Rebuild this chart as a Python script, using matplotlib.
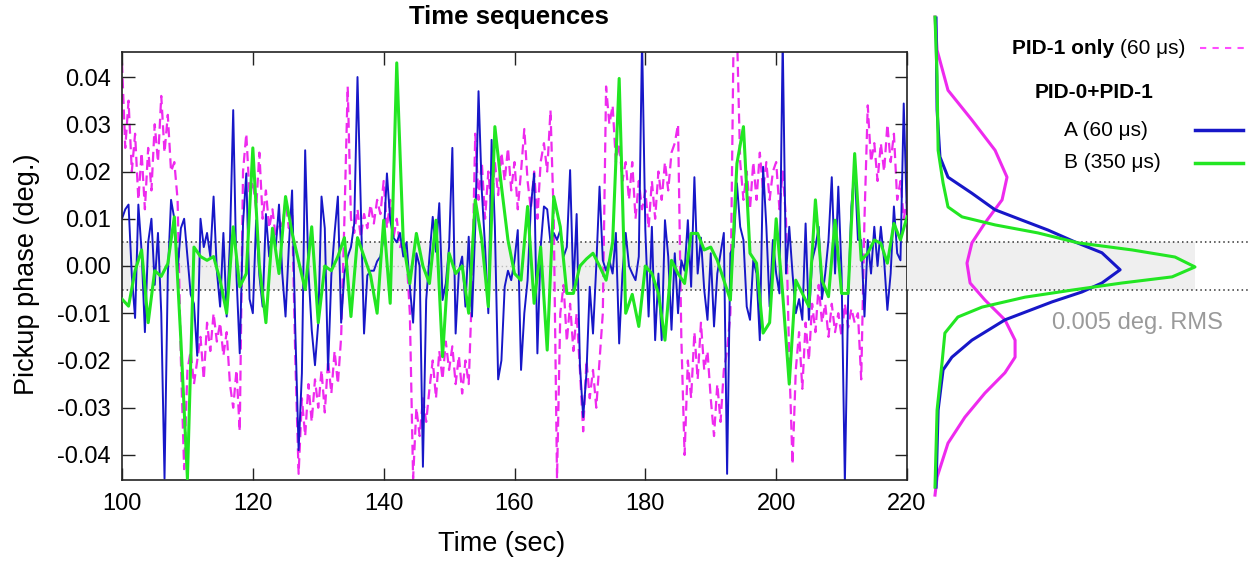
import matplotlib.pyplot as plt
import numpy as np
from matplotlib.ticker import FormatStrFormatter, MultipleLocator

plt.rcParams['font.family'] = ['Liberation Sans', 'DejaVu Sans']
plt.rcParams['axes.unicode_minus'] = False

# values in units of 0.001 deg
t_a = np.arange(100, 220.01, 0.5)
phase_a = [
    10, 12, 13, -2, -11, 13, 3, -14, 5, 10,
    -4, 7, -10, -45, -2, 14, 10, -1, 8, 10,
    2, -6, -8, -19, 10, 4, 7, 2, 14.7, -1,
    -8.6, 7, -10.7, 5, 33, -2, -18.5, 9, 19.6, -7,
    -10, 9.7, -2, -8.6, 11, 2, 7, 4, 13, -1.6,
    -10.7, 4, 16, -14, -39, -22.7, 24.5, -1, -13.5, -21,
    -12, 14.7, 8, -22, -2, 7, 14.7, -12, -1.6, 2,
    4, 9, 40, 12.6, -14.3, -2, -1, -1, 1, 2,
    6, 19.6, 9.7, 6, 5, 7, 2, 5, -4.4, -12,
    2.7, 0, -42.5, -7.2, 2, 10.4, 3, 13.3, -7.2, -3.7,
    4, 25, -14.3, -1, 2, -8.6, 6.2, -10.7, 8.3, 37,
    16, 4, -10, 26.7, 8.3, -24, -20, -4.4, -1, -3,
    1.2, 7.6, -22, -10, -3, 12.6, 19.6, -18.5, 4, 12.6,
    12, 5, 7, 5.5, 7.6, 2, 4, 20.3, -5, 11,
    -21, -32, -22.7, -4.4, -14.3, 0, 16.8, 1.2, -1, 1.2,
    -1.6, 7, -16.4, -1.6, 7, 0, -1.6, -3, 2, 48,
    7.6, -10.7, 8.3, -15.7, -1.6, -15.7, 9.7, 2, -13.5, 2.7,
    -10, 1.2, -1, 9.7, -4.4, 18.8, -1.6, 6, -5, -11.4,
    2.7, -12.8, -1.6, 2.7, 7, -44, 2.7, 4, 17.5, 8.3,
    5.5, -8.6, -11.4, 1.2, -1.6, -15.7, 21, 8.3, -8.6, 5.5,
    -1.6, -5.8, 48, -1.6, 8.3, -1.6, -10, -7, -11.4, 9,
    -11.4, 1.2, 4, 8.3, -7, -1.6, 5.5, 18.8, -1.6, 16.8,
    -1.6, -46, -7, 12.6, 21, 5.5, 5.5, -10.7, 5.5, -1.6,
    8.3, 0, 8.3, 1.2, -9.3, -1.6, 12.6, 2.7, 1.2, 34.4,
    10,
]

t_b = np.arange(100, 221, 1)
phase_b = [
    -7, -8.5, -1, 3.4, -12, -1, -2.2, 0.5, 10.4, -15.7,
    -45, 4, 2, 1.2, 2, -3, -10, 8.3, -4.4, -1.6,
    25, 0, -12, 8, -1.6, 14.7, 7, 1, -5, 8.3,
    -12, 0, -1, 2, 6, -10.7, 6, 2, -2, -10,
    9.7, -7.9, 43, 5, -3.7, 6.9, 0, -3.7, 9.7, -19.2,
    2.7, -1.6, 0, -10, 14, 5.5, -8.6, 29.5, 16.9, 5.5,
    -1.6, -3, 12.6, -7.9, 4, -17.8, 14.7, 8.3, -5.8, -5.8,
    0, 1.5, 2.7, 0, -3, 5, 39.7, -10, -6, -12.8,
    0, -1.6, -5.8, -15.7, 1.2, -1.6, -3.7, 6.9, 6.9, 3.4,
    4, 1.2, -3, -7.2, 21.7, 29.5, 2.7, 0.6, -14.2, -12,
    10, -6, -25, -3, -5.8, -8.6, 14, -3, -6.5, 9.7,
    -5.8, -5.8, 23.8, 1.2, 2.7, 5.5, 4.8, 0.6, 9, 5.5,
    10.4,
]

t_p = np.arange(100, 220.01, 0.5)
phase_p = [
    43, 25, 35, 20, 28, 14, 24, 12, 25, 16,
    30, 22, 36, 24, 32, 20, 22, 14, -20, -43,
    -22, -18, -25, -20, -15, -24, -12, -18, -10, -16,
    -12, -19, -14, -25, -30, -22, -35, 20, 28, 15,
    18, 12, 24, 10, 16, 8, 12, 6, 10, 8,
    14, 8, 12, -20, -44, -28, -36, -25, -33, -24,
    -30, -22, -31, -20, -27, -18, -25, -15, 10, 38,
    10, 7, 12, 6, 11, 8, 13, 9, 14, 11,
    18, 8, 14, 6, 10, 4, 6, 2, -10, -45,
    -30, -36, -28, -33, -26, -20, -28, -18, -24, -16,
    -22, -17, -25, -19, -27, -20, -25, -5, 28, 14,
    22, 10, 20, 12, 22, 15, 24, 18, 25, 16,
    22, 12, 20, 29, 18, 12, 20, 10, 22, 26,
    20, 33, 10, -45, -10, -4, -16, -8, -18, -10,
    -22, -35, -20, -28, -22, -30, -20, -10, 38, 30,
    34, 22, 26, 18, 22, 14, 22, 10, 18, 12,
    16, 8, 18, 10, 20, 14, 22, 16, 24, 26,
    30, -15, -40, -20, -28, -14, -24, -12, -22, -18,
    -28, -36, -25, -33, -22, -18, -10, 50, 50, 22,
    14, 20, 12, 22, 14, 24, 16, 22, 14, 20,
    22, 12, 20, 10, -20, -42, -22, -14, -26, -12,
    -20, -8, -14, -4, -12, -8, -15, -8, -14, -10,
    -15, -8, -13, -9, -12, -10, -24, 10, 34, 22,
    26, 18, 26, 20, 30, 22, 28, 14, 18, 10,
    14,
]

# distributions on the right (phase in 0.001 deg, density in relative units)
dist_p_phase = [52.7, 45.7, 37.2, 30.9, 24.5, 18.8, 14.0, 9.1, 4.9, 0.6, -3.6,
                -7.2, -11.4, -15.7, -19.3, -22.6, -26.9, -32.0, -37.5, -44.7, -48.5]
dist_p_dens = [0, 0.008, 0.05, 0.142, 0.231, 0.277, 0.258, 0.192, 0.142, 0.123, 0.135,
               0.192, 0.269, 0.308, 0.308, 0.269, 0.192, 0.115, 0.05, 0.008, 0]
dist_a_phase = [52.5, 33.0, 23.1, 18.8, 15.4, 11.9, 9.7, 7.6, 5.1, 2.8, -0.8,
                -3.6, -5.5, -7.6, -11.4, -15.7, -19.3, -22.0, -30.5, -46.8]
dist_a_dens = [0.004, 0.008, 0.019, 0.05, 0.142, 0.231, 0.335, 0.435, 0.538, 0.642, 0.712,
               0.642, 0.565, 0.45, 0.269, 0.142, 0.065, 0.031, 0.012, 0.004]
dist_b_phase = [52.7, 40.0, 24.5, 17.6, 12.5, 10.4, 8.7, 7.0, 4.9, 3.4, 1.9, -0.2,
                -2.3, -3.6, -5.1, -6.6, -8.7, -10.8, -14.2, -20.5, -30.5, -46.8]
dist_b_dens = [0, 0.008, 0.012, 0.031, 0.05, 0.104, 0.231, 0.396, 0.55, 0.758, 0.923, 1.0,
               0.912, 0.719, 0.527, 0.346, 0.181, 0.088, 0.038, 0.027, 0.008, 0]

rms = 0.005
c_a = '#1717c8'
c_b = '#22e622'
c_p = '#ee2aee'

W, H = 1257, 565
fig = plt.figure(figsize=(W / 100, H / 100), dpi=100)

# 主图
ax = fig.add_axes([122 / W, 1 - 480 / H, 785 / W, 428 / H])
ax.axhspan(-rms, rms, color='#efefef', zorder=0, lw=0)
ax.axhline(0, color='#bbbbbb', lw=1, ls=(0, (1, 2)), zorder=0.5)
for s in (-rms, rms):
    ax.axhline(s, color='#333333', lw=1.1, ls=(0, (1, 2)), zorder=0.6)

ax.plot(t_p, np.array(phase_p) * 1e-3, color=c_p, lw=1.6, ls=(0, (4.5, 2.5)), zorder=1)
ax.plot(t_a, np.array(phase_a) * 1e-3, color=c_a, lw=1.4, zorder=2)
ax.plot(t_b, np.array(phase_b) * 1e-3, color=c_b, lw=2.2, zorder=3)

ylim = (-0.0453, 0.0453)
ax.set_xlim(100, 220)
ax.set_ylim(*ylim)
ax.xaxis.set_major_locator(MultipleLocator(20))
ax.yaxis.set_major_locator(MultipleLocator(0.01))
ax.yaxis.set_major_formatter(FormatStrFormatter('%.2f'))
ax.tick_params(direction='in', length=9, width=1, top=True, right=True,
               labelsize=17, color='#222222')
ax.tick_params(axis='x', pad=9)
ax.tick_params(axis='y', pad=8)
for sp in ax.spines.values():
    sp.set_linewidth(1.2)
    sp.set_color('#222222')

ax.set_xlabel('Time (sec)', fontsize=19.5)
ax.xaxis.set_label_coords((502 - 122) / 785, -(531 - 480) / 428)
ax.xaxis.label.set_va('top')
ax.set_ylabel('Pickup phase (deg.)', fontsize=19.5)
ax.yaxis.set_label_coords(-(122 - 40) / 785, 0.48)
fig.text(509 / W, 1 - 17 / H, 'Time sequences', fontsize=18.5, fontweight='bold',
         ha='center', va='center')

# 右侧分布
ax2 = fig.add_axes([935 / W, 1 - 480 / H, 260 / W, 428 / H])
ax2.set_xlim(0, 1)
ax2.set_ylim(*ylim)
ax2.set_axis_off()
x_left = -(935 - 907) / 260
x_right = (1250 - 935) / 260
ax2.fill_between([x_left, 1.0], -rms, rms, color='#efefef', lw=0, zorder=0, clip_on=False)
for s in (-rms, rms):
    ax2.plot([x_left, x_right], [s, s], color='#333333', lw=1.1, ls=(0, (1, 2)),
             zorder=0.6, clip_on=False)
ax2.plot(dist_p_dens, np.array(dist_p_phase) * 1e-3, color=c_p, lw=2.2, clip_on=False, zorder=1)
ax2.plot(dist_a_dens, np.array(dist_a_phase) * 1e-3, color=c_a, lw=2.2, clip_on=False, zorder=2)
ax2.plot(dist_b_dens, np.array(dist_b_phase) * 1e-3, color=c_b, lw=2.2, clip_on=False, zorder=3)

fig.text(1137 / W, 1 - 323 / H, '0.005 deg. RMS', fontsize=17, color='#9a9a9a',
         ha='center', va='center')

# 图例
leg_fs = 15
t1 = fig.text(1185 / W, 1 - 48 / H, '(60 \u03bcs)', fontsize=leg_fs, ha='right', va='center')
ax2.annotate('PID-1 only ', xy=(0, 0.5), xycoords=t1, fontsize=leg_fs, fontweight='bold',
             ha='right', va='center', annotation_clip=False)
fig.text(1094 / W, 1 - 93 / H, 'PID-0+PID-1', fontsize=leg_fs, fontweight='bold',
         ha='center', va='center')
fig.text(1064 / W, 1 - 130 / H, 'A (60 \u03bcs)', fontsize=leg_fs, ha='left', va='center')
fig.text(1064 / W, 1 - 163 / H, 'B (350 \u03bcs)', fontsize=leg_fs, ha='left', va='center')
fig.add_artist(plt.Line2D([1200 / W, 1245 / W], [1 - 48 / H] * 2, color='#ff4cff', lw=1.5,
                          ls=(0, (3, 3))))
fig.add_artist(plt.Line2D([1195 / W, 1243 / W], [1 - 130 / H] * 2, color=c_a, lw=2.5))
fig.add_artist(plt.Line2D([1195 / W, 1243 / W], [1 - 163 / H] * 2, color=c_b, lw=2.5))

fig.savefig('out.png', dpi=100)
